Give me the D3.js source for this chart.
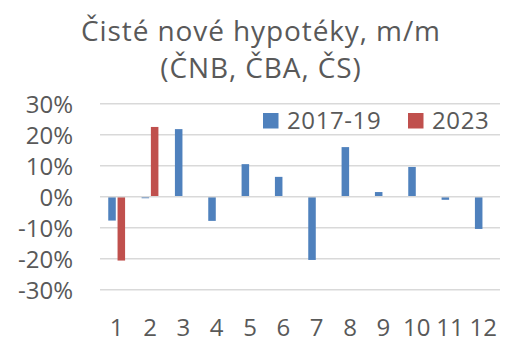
<!DOCTYPE html>
<html>
<head>
<meta charset="utf-8">
<script src="https://cdn.jsdelivr.net/npm/d3@7"></script>
<style>
  html, body { margin: 0; padding: 0; background: #fff; }
  svg { display: block; font-family: "Open Sans", sans-serif; }
</style>
</head>
<body>
<svg id="chart" width="524" height="357"></svg>
<script>
const titleLines = ["Čisté nové hypotéky, m/m", "(ČNB, ČBA, ČS)"];
const categories = ["1","2","3","4","5","6","7","8","9","10","11","12"];
const seriesNames = ["2017-19", "2023"];
const values2017_19 = [-0.077, -0.005, 0.218, -0.078, 0.105, 0.064, -0.204, 0.160, 0.015, 0.096, -0.010, -0.104];
const values2023 = [-0.206, 0.225, null, null, null, null, null, null, null, null, null, null];
const yTicks = [-0.3, -0.2, -0.1, 0, 0.1, 0.2, 0.3];
const colors = ["#4f81bd", "#c0504d"];

const svg = d3.select("#chart");
const textColor = "#595959";

const x0 = d3.scaleBand().domain(categories).range([100, 500]).paddingInner(0).paddingOuter(0);
const x1 = d3.scaleBand().domain(seriesNames).range([0, x0.bandwidth()]).paddingInner(0.19).paddingOuter(0.887);
const y = d3.scaleLinear().domain([-0.3, 0.3]).range([289.7, 103.7]);

// title
svg.append("g").selectAll("text").data(titleLines).join("text")
  .attr("x", 261)
  .attr("y", (d, i) => i === 0 ? 41 : 78)
  .attr("text-anchor", "middle")
  .attr("font-size", 28)
  .attr("letter-spacing", 0.9)
  .attr("fill", textColor)
  .text(d => d);

// gridlines
const yAxis = d3.axisLeft(y).tickValues(yTicks).tickSize(0).tickPadding(0)
  .tickFormat(d => Math.round(d * 100) + "%");
const gGrid = svg.append("g");
gGrid.selectAll("line").data(yTicks.filter(t => t !== 0)).join("line")
  .attr("x1", 100).attr("x2", 500)
  .attr("y1", d => y(d)).attr("y2", d => y(d))
  .attr("stroke", "#d9d9d9").attr("stroke-width", 1.5);

// y axis labels
const gy = svg.append("g").attr("transform", "translate(73,0)").call(yAxis);
gy.select(".domain").remove();
gy.selectAll("text").attr("font-size", 24).attr("fill", textColor)
  .attr("font-family", "'Open Sans', sans-serif").attr("dy", "0.36em");

// bars
const allSeries = [values2017_19, values2023];
allSeries.forEach((vals, si) => {
  svg.append("g").selectAll("rect")
    .data(vals.map((v, i) => ({cat: categories[i], v})).filter(d => d.v !== null))
    .join("rect")
    .attr("x", d => x0(d.cat) + x1(seriesNames[si]))
    .attr("width", x1.bandwidth())
    .attr("y", d => y(Math.max(0, d.v)))
    .attr("height", d => Math.abs(y(d.v) - y(0)))
    .attr("fill", colors[si]);
});

// zero line on top
svg.append("line")
  .attr("x1", 100).attr("x2", 500)
  .attr("y1", y(0)).attr("y2", y(0))
  .attr("stroke", "#d9d9d9").attr("stroke-width", 1.5);

// x axis labels
const xAxis = d3.axisBottom(x0).tickSize(0).tickPadding(0);
const gx = svg.append("g").attr("transform", "translate(0,336)").call(xAxis);
gx.select(".domain").remove();
gx.selectAll("text").attr("font-size", 24).attr("fill", textColor)
  .attr("font-family", "'Open Sans', sans-serif").attr("dy", 0).attr("y", 0);

// legend
const legendX = [263, 408];
const lg = svg.append("g");
seriesNames.forEach((name, i) => {
  lg.append("rect").attr("x", legendX[i]).attr("y", 113).attr("width", 15.5).attr("height", 15.5).attr("fill", colors[i]);
  lg.append("text").attr("x", legendX[i] + 24).attr("y", 129)
    .attr("font-size", 24).attr("letter-spacing", 0.6).attr("fill", textColor).text(name);
});
</script>
</body>
</html>
